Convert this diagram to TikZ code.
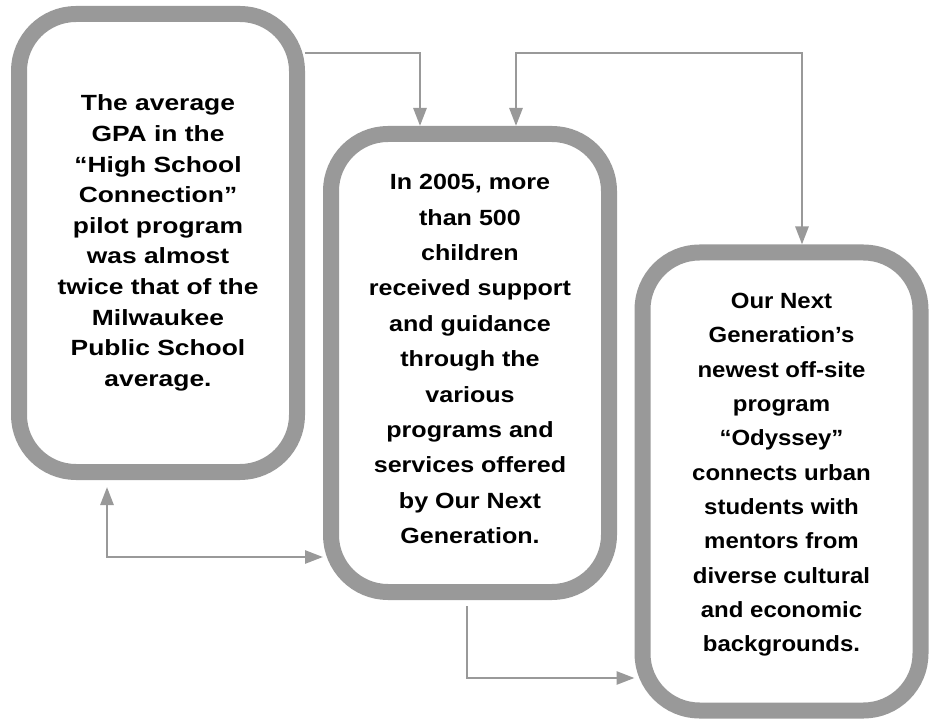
\documentclass[tikz,border=0pt]{standalone}
\usepackage{fontspec}
\setmainfont{Liberation Sans}
\newfontfamily\gpafont{Liberation Sans}[FakeStretch=1.2]
\newfontfamily\kidsfont{Liberation Sans}[FakeStretch=1.14]
\newfontfamily\odysseyfont{Liberation Sans}[FakeStretch=1.09]
\usepackage{tikz}
\usetikzlibrary{arrows.meta}
\definecolor{boxgray}{HTML}{999999}

\begin{document}
\begin{tikzpicture}
                [
                x=1pt,y=-1pt,
                box/.style={rectangle,rounded corners=57pt,draw=boxgray,line width=16pt,minimum width=278pt,minimum height=458pt,align=center},
                edge/.style={->,>={Triangle[length=18pt,width=13pt]},draw=boxgray,line width=2.7pt}
                ]
            \useasboundingbox (0,0) rectangle (935,719);
            \node[box,font=\gpafont\fontsize{22}{30.6}\selectfont\bfseries] (1) at (158,243) {The average\\GPA in the\\“High School\\Connection”\\pilot program\\was almost\\twice that of the\\Milwaukee\\Public School\\average.};
            \node[box,text depth=8pt,font=\kidsfont\fontsize{22}{35.4}\selectfont\bfseries] (2) at (470,363) {In 2005, more\\than 500\\children\\received support\\and guidance\\through the\\various\\programs and\\services offered\\by Our Next\\Generation.};
            \node[box,text depth=18pt,font=\odysseyfont\fontsize{22}{34.3}\selectfont\bfseries] (3) at (781.5,481.5) {Our Next\\Generation’s\\newest off-site\\program\\“Odyssey”\\connects urban\\students with\\mentors from\\diverse cultural\\and economic\\backgrounds.};
            \coordinate (t1) at (420,53);
            \coordinate (t2) at (516,53);
            \coordinate (t3) at (802,53);
            \coordinate (b1) at (107,557);
            \coordinate (b2) at (467,678);
            \draw[edge] (1.east |- t1) -| (2.north -| t1);
            \draw[edge,<->] (2.north -| t2) -- (t2) -- (t3) -- (3.north -| t3);
            \draw[edge,<->,shorten <=7pt] (1.south -| b1) |- (2.west |- b1);
            \draw[edge,shorten <=6pt] (2.south -| b2) |- (3.west |- b2);
            \end{tikzpicture}
\end{document}
